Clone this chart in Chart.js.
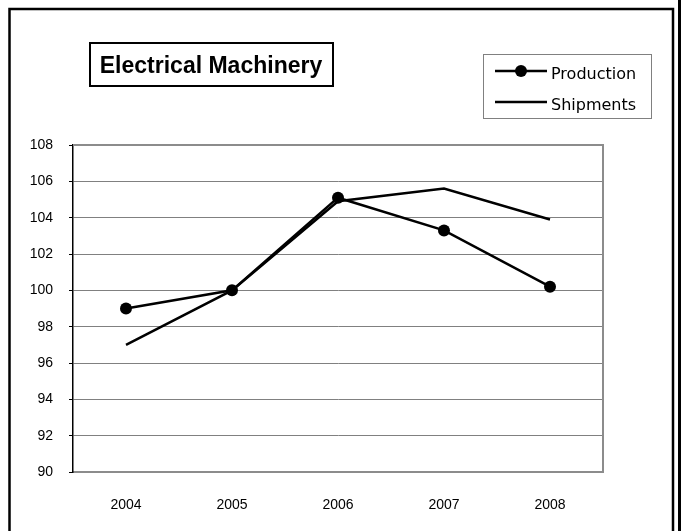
<!DOCTYPE html>
<html>
<head>
<meta charset="utf-8">
<script src="https://cdn.jsdelivr.net/npm/chart.js@4.4.1/dist/chart.umd.min.js"></script>
<style>
  html, body { margin: 0; padding: 0; background: #fff; }
  canvas { display: block; }
</style>
</head>
<body>
<canvas id="chart" width="681" height="531"></canvas>
<script>
// Data
const years = ['2004', '2005', '2006', '2007', '2008'];
const production = [99.0, 100.0, 105.1, 103.3, 100.2];
const shipments = [97.0, 100.0, 104.9, 105.6, 103.9];
const yMin = 90;
const yMax = 108;
const yStep = 2;
const chartTitle = 'Electrical Machinery';

// Frame, title box, plot border and legend
const decorations = {
    id: 'decorations',
    afterDraw(chart) {
        const ctx = chart.ctx;
        const a = chart.chartArea;
        ctx.save();

        // outer frame
        ctx.strokeStyle = '#000';
        ctx.lineWidth = 2.5;
        ctx.beginPath();
        ctx.moveTo(9.5, 540);
        ctx.lineTo(9.5, 9);
        ctx.lineTo(673, 9);
        ctx.lineTo(673, 540);
        ctx.stroke();
        ctx.lineWidth = 3;
        ctx.beginPath();
        ctx.moveTo(679.5, 0);
        ctx.lineTo(679.5, 540);
        ctx.stroke();

        // plot top / right border
        ctx.strokeStyle = '#8c8c8c';
        ctx.lineWidth = 2;
        ctx.beginPath();
        ctx.moveTo(a.left, a.top);
        ctx.lineTo(a.right, a.top);
        ctx.lineTo(a.right, a.bottom);
        ctx.stroke();

        // title box
        ctx.strokeStyle = '#000';
        ctx.lineWidth = 2;
        ctx.strokeRect(90, 43, 243, 43);
        ctx.fillStyle = '#000';
        ctx.font = 'bold 23px "Liberation Sans", Arial, sans-serif';
        ctx.textAlign = 'center';
        ctx.textBaseline = 'alphabetic';
        ctx.fillText(chartTitle, 211, 73);

        // legend
        ctx.strokeStyle = '#808080';
        ctx.lineWidth = 1;
        ctx.strokeRect(483.5, 54.5, 168, 64);
        ctx.font = '16px "DejaVu Sans", sans-serif';
        ctx.textAlign = 'left';
        const rows = [71, 102];
        chart.data.datasets.forEach((ds, i) => {
            const y = rows[i];
            ctx.strokeStyle = ds.borderColor;
            ctx.lineWidth = ds.borderWidth;
            ctx.beginPath();
            ctx.moveTo(495, y);
            ctx.lineTo(547, y);
            ctx.stroke();
            if (ds.pointRadius > 0) {
                ctx.fillStyle = ds.pointBackgroundColor;
                ctx.beginPath();
                ctx.arc(521, y, ds.pointRadius, 0, Math.PI * 2);
                ctx.fill();
            }
            ctx.fillStyle = '#000';
            ctx.fillText(ds.label, 551, y + 8);
        });

        ctx.restore();
    }
};

new Chart(document.getElementById('chart'), {
    type: 'line',
    data: {
        labels: years,
        datasets: [{
            label: 'Production',
            data: production,
            borderColor: '#000',
            borderWidth: 2.5,
            pointRadius: 6,
            pointBackgroundColor: '#000',
            pointBorderColor: '#000',
            pointBorderWidth: 0,
            tension: 0
        }, {
            label: 'Shipments',
            data: shipments,
            borderColor: '#000',
            borderWidth: 2.5,
            pointRadius: 0,
            tension: 0
        }]
    },
    options: {
        responsive: false,
        animation: false,
        devicePixelRatio: 1,
        layout: {
            padding: { left: 0, top: 145, right: 78, bottom: 0 }
        },
        plugins: {
            legend: { display: false },
            title: { display: false },
            tooltip: { enabled: false }
        },
        scales: {
            x: {
                offset: true,
                grid: { display: false, drawTicks: false },
                border: { display: true, color: '#8c8c8c', width: 2 },
                ticks: {
                    color: '#000',
                    padding: 25,
                    maxRotation: 0,
                    font: { family: '"Liberation Sans", Arial, sans-serif', size: 14 }
                },
                afterFit: scale => { scale.height = 59; }
            },
            y: {
                min: yMin,
                max: yMax,
                grid: { color: '#808080', lineWidth: 1, tickLength: 4, tickColor: '#000' },
                border: { display: true, color: '#000', width: 1.5 },
                ticks: {
                    stepSize: yStep,
                    color: '#000',
                    padding: 16,
                    font: { family: '"Liberation Sans", Arial, sans-serif', size: 14 }
                },
                afterFit: scale => { scale.width = 73; }
            }
        }
    },
    plugins: [decorations]
});
</script>
</body>
</html>
